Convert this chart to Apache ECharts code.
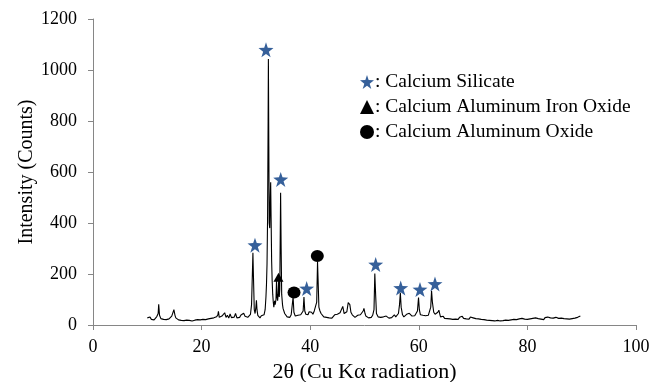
<!DOCTYPE html>
<html>
<head>
<meta charset="utf-8">
<script src="https://cdn.jsdelivr.net/npm/echarts@6/dist/echarts.min.js"></script>
<style>
html,body{margin:0;padding:0;background:#fff;}
#chart{width:662px;height:382px;}
</style>
</head>
<body>
<div id="chart"></div>
<script>
// 2θ (degrees) and intensity (counts) of the XRD pattern
var twoTheta = [
10.00,10.25,10.50,10.75,11.00,11.25,11.50,11.75,12.00,12.10,12.25,12.50,12.75,13.00,13.25,13.50,13.75,14.00,14.25,14.50,14.75,14.90,15.10,15.25,15.50,15.75,
16.00,16.25,16.50,16.75,17.00,17.25,17.50,17.75,18.00,18.25,18.50,18.75,19.00,19.25,19.50,19.75,20.00,20.25,20.50,20.75,21.00,21.25,21.50,21.75,
22.00,22.25,22.50,22.75,23.00,23.10,23.25,23.50,23.75,24.00,24.25,24.50,24.75,25.00,25.25,25.50,25.75,26.00,26.25,26.50,26.75,27.00,27.25,27.50,27.75,
28.00,28.25,28.50,28.75,29.00,29.20,29.35,29.45,29.55,29.70,29.85,30.00,30.10,30.20,30.35,30.50,30.75,31.00,31.25,31.50,31.70,31.85,31.95,
32.05,32.15,32.25,32.30,32.38,32.45,32.55,32.65,32.72,32.80,32.90,33.00,33.10,33.20,33.30,33.45,33.55,33.70,33.80,33.90,34.00,34.10,34.20,34.30,34.40,34.55,34.65,34.75,34.90,
35.00,35.15,35.30,35.50,35.75,36.00,36.25,36.50,36.70,36.85,37.00,37.25,37.50,37.75,38.00,38.25,38.50,38.70,38.85,39.00,39.20,39.40,39.60,39.80,
40.00,40.25,40.50,40.75,41.00,41.20,41.35,41.45,41.60,41.80,42.00,42.25,42.50,42.75,43.00,43.25,43.50,43.75,44.00,44.25,44.50,44.75,
45.00,45.25,45.50,45.75,46.00,46.25,46.50,46.75,47.00,47.15,47.30,47.50,47.75,48.00,48.25,48.50,48.75,49.00,49.25,49.50,49.75,49.90,
50.10,50.25,50.50,50.75,51.00,51.25,51.50,51.75,51.90,52.05,52.20,52.50,52.75,53.00,53.25,53.50,53.75,54.00,54.25,54.50,54.75,
55.00,55.25,55.50,55.75,56.00,56.25,56.45,56.60,56.75,57.00,57.25,57.50,57.75,58.00,58.25,58.50,58.75,59.00,59.25,59.50,59.75,59.95,
60.10,60.30,60.50,60.75,61.00,61.25,61.50,61.75,62.00,62.20,62.35,62.50,62.75,63.00,63.25,63.50,63.70,63.90,64.00,64.25,64.50,64.75,
65.00,65.25,65.50,65.75,66.00,66.25,66.50,66.75,67.00,67.25,67.50,67.75,68.00,68.25,68.50,68.75,69.00,69.25,69.50,69.75,
70.00,70.25,70.50,70.75,71.00,71.25,71.50,71.75,72.00,72.25,72.50,72.75,73.00,73.25,73.50,73.75,74.00,74.25,74.50,74.75,
75.00,75.25,75.50,75.75,76.00,76.25,76.50,76.75,77.00,77.25,77.50,77.75,78.00,78.25,78.50,78.75,79.00,79.25,79.50,79.75,
80.00,80.25,80.50,80.75,81.00,81.25,81.50,81.75,82.00,82.25,82.50,82.75,83.00,83.25,83.50,83.75,84.00,84.25,84.50,84.75,
85.00,85.25,85.50,85.75,86.00,86.25,86.50,86.75,87.00,87.25,87.50,87.75,88.00,88.25,88.50,88.75,89.00,89.25,89.50,89.75
];
var intensity = [
28,24,31,22,27,20,26,33,45,81,38,25,30,22,26,21,28,24,30,35,42,60,38,28,24,20,
23,18,22,17,21,19,24,18,20,16,22,19,17,21,16,20,18,22,17,21,19,24,20,26,
22,28,25,32,40,54,30,26,35,28,48,30,38,27,43,29,36,31,45,28,34,30,39,33,46,
34,38,30,35,42,80,200,283,190,60,45,70,97,60,38,32,28,36,30,40,60,110,160,
240,420,800,1043,700,400,380,500,560,420,250,170,120,90,70,95,80,100,175,110,95,120,178,110,140,519,300,120,80,
65,58,45,38,32,35,30,40,45,110,50,35,30,38,33,40,36,55,110,55,42,48,40,52,
45,50,42,55,60,90,248,180,70,55,45,38,32,36,30,35,28,33,27,31,40,34,
42,36,48,55,73,45,38,52,88,93,80,50,40,35,30,34,38,32,40,45,55,65,
45,35,30,28,32,30,38,60,202,120,45,32,28,30,26,32,28,35,30,27,33,
29,36,40,32,38,45,80,126,70,40,32,35,42,38,46,40,35,30,36,42,55,108,
60,40,34,38,32,36,30,38,45,70,134,90,50,42,45,50,58,40,32,28,34,26,
30,25,28,24,30,22,26,23,28,22,30,25,34,26,29,24,27,23,31,25,
28,22,25,20,24,19,22,17,21,16,19,15,18,14,17,13,16,14,18,13,
16,12,17,14,19,15,18,14,20,16,22,17,21,18,24,19,26,20,23,18,
22,17,24,19,26,20,28,22,25,30,23,27,21,29,24,31,25,28,22,27,
23,30,24,26,21,27,22,25,20,24,19,23,20,25,21,27,24,30,28,35
];
// phase markers: [2θ, intensity] position of each marker
var silicateMarks = [[29.83,313],[31.86,1079],[34.57,571],[39.35,143],[52.06,237],[56.67,145],[60.22,139],[62.98,161]];
var ironOxideMarks = [[34.16,187]];
var aluminumOxideMarks = [[37.02,127],[41.31,271]];
var phaseNames = ['Calcium Silicate','Calcium Aluminum Iron Oxide','Calcium Aluminum Oxide'];
var xTicks = {min:0, max:100, interval:20};
var yTicks = {min:0, max:1200, interval:200};

var pattern = twoTheta.map(function(t,i){ return [t, intensity[i]]; });
var starColor = '#36609A';
var starPath = 'path://M50,0 L61.8,36.2 L100,38.2 L69.1,61.8 L80.9,100 L50,77.6 L19.1,100 L30.9,61.8 L0,38.2 L38.2,36.2 Z';
var serif = '"Liberation Serif","Times New Roman",serif';

var chart = echarts.init(document.getElementById('chart'), null, {renderer:'canvas'});
chart.setOption({
  animation:false,
  backgroundColor:'#fff',
  grid:{left:93, right:26, top:19, bottom:57, containLabel:false, outerBoundsMode:'none'},
  xAxis:{
    type:'value', min:xTicks.min, max:xTicks.max, interval:xTicks.interval,
    name:'2θ (Cu Kα radiation)', nameLocation:'middle', nameGap:36, nameMoveOverlap:false,
    nameTextStyle:{fontFamily:serif, fontSize:22, color:'#000'},
    axisLine:{lineStyle:{color:'#868686', width:1}},
    axisTick:{show:true, length:5, lineStyle:{color:'#868686'}},
    axisLabel:{fontFamily:serif, fontSize:18, color:'#000', margin:13},
    splitLine:{show:false}
  },
  yAxis:{
    type:'value', min:yTicks.min, max:yTicks.max, interval:yTicks.interval,
    name:'Intensity (Counts)', nameLocation:'middle', nameGap:56, nameRotate:90, nameMoveOverlap:false,
    nameTextStyle:{fontFamily:serif, fontSize:20, color:'#000'},
    axisLine:{show:true, lineStyle:{color:'#868686', width:1}},
    axisTick:{show:true, length:5, lineStyle:{color:'#868686'}},
    axisLabel:{fontFamily:serif, fontSize:18, color:'#000', margin:16, formatter:function(v){return String(v);}},
    splitLine:{show:false}
  },
  legend:{
    orient:'vertical', left:355, top:67, itemGap:5, itemWidth:14, itemHeight:14,
    selectedMode:false,
    formatter:function(n){ return ': ' + n; },
    textStyle:{fontFamily:serif, fontSize:19.5, color:'#000', lineHeight:19, padding:[0,0,0,-4]},
    data:[
      {name:phaseNames[0], icon:starPath, itemStyle:{color:starColor, opacity:1}},
      {name:phaseNames[1], icon:'triangle', itemStyle:{color:'#000', opacity:1}},
      {name:phaseNames[2], icon:'circle', itemStyle:{color:'#000', opacity:1}}
    ]
  },
  series:[
    {type:'line', data:pattern, showSymbol:false, symbol:'none', lineStyle:{color:'#000', width:1.1}, z:2, silent:true},
    {type:'scatter', name:phaseNames[0], data:silicateMarks, symbol:starPath, symbolSize:15, itemStyle:{color:starColor, opacity:1}, z:3},
    {type:'scatter', name:phaseNames[1], data:ironOxideMarks, symbol:'triangle', symbolSize:[10,9], itemStyle:{color:'#000', opacity:1}, z:3},
    {type:'scatter', name:phaseNames[2], data:aluminumOxideMarks, symbol:'circle', symbolSize:[13,12], itemStyle:{color:'#000', opacity:1}, z:3}
  ]
});
</script>
</body>
</html>
